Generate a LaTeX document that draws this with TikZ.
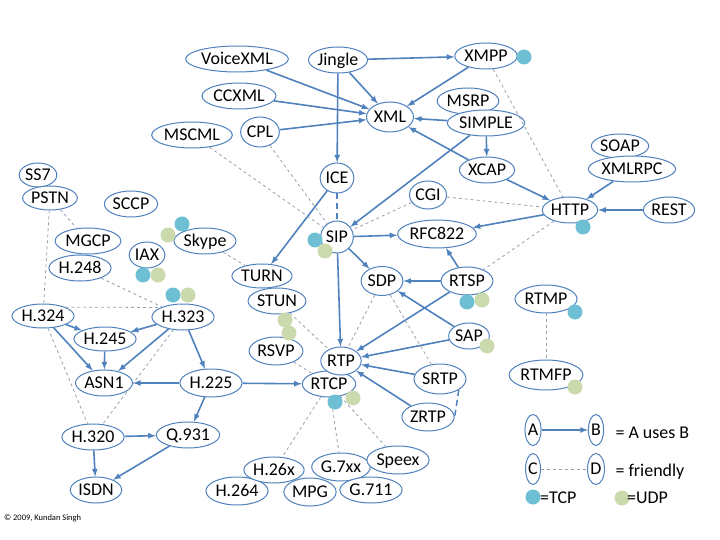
\documentclass[tikz,border=0pt]{standalone}
\usepackage{fontspec}
\setmainfont{Carlito}
\usepackage{tikz}
\usetikzlibrary{shapes.geometric,arrows}

\definecolor{protoblue}{RGB}{79,129,189}
\definecolor{friendgray}{RGB}{150,160,178}
\definecolor{tcpblue}{RGB}{110,190,212}
\definecolor{udpgreen}{RGB}{203,218,172}

\begin{document}
\begin{tikzpicture}[x=1bp, y=-1bp,
    proto/.style={draw=protoblue, fill=white, ellipse, line width=1bp, inner sep=0.5bp,
      minimum height=26bp, text height=12bp, text depth=1bp, font=\fontsize{18}{21}\selectfont},
    uses/.style={->, >=latex, draw=protoblue, line width=1.6bp},
    friend/.style={draw=friendgray, dashed, line width=0.8bp},
    tcp/.style={circle, fill=tcpblue, inner sep=0pt, minimum size=15bp},
    udp/.style={circle, fill=udpgreen, inner sep=0pt, minimum size=15bp}]
  \useasboundingbox (0,0) rectangle (720,540);

  % upper part: markup and signalling
  \node[proto] (voicexml) at (237,59) {VoiceXML};
  \node[proto] (jingle) at (338,60) {Jingle};
  \node[proto] (xmpp) at (486,56) {XMPP};
  \node[proto] (ccxml) at (239,96) {CCXML};
  \node[proto, minimum height=30bp] (xml) at (390,117) {XML};
  \node[proto] (msrp) at (468,101) {MSRP};
  \node[proto] (simple) at (486,123) {SIMPLE};
  \node[proto] (mscml) at (192,135) {MSCML};
  \node[proto, minimum height=30bp] (cpl) at (260,132) {CPL};
  \node[proto, minimum height=30bp] (ice) at (337,178) {ICE};
  \node[proto] (xcap) at (487,170) {XCAP};
  \node[proto, minimum height=24bp] (soap) at (620,146) {SOAP};
  \node[proto] (xmlrpc) at (632,169) {XMLRPC};
  \node[proto, minimum height=28bp] (cgi) at (428,195) {CGI};
  \node[proto] (http) at (570,210) {HTTP};
  \node[proto] (rest) at (669,210) {REST};
  \node[proto, minimum height=32bp] (sip) at (337,237) {SIP};
  \node[proto, minimum height=28bp] (rfc) at (437,234) {RFC822};

  % left part: telephony
  \node[proto, minimum height=24bp] (ss7) at (38,175) {SS7};
  \node[proto, minimum height=24bp] (pstn) at (50,198) {PSTN};
  \node[proto] (sccp) at (131,204) {SCCP};
  \node[proto] (skype) at (205,241) {Skype};
  \node[proto] (mgcp) at (88,241) {MGCP};
  \node[proto] (h248) at (80,268) {H.248};
  \node[proto] (iax) at (147,255) {IAX};
  \node[proto, minimum height=24bp] (h324) at (43,316) {H.324};
  \node[proto] (h323) at (183,317) {H.323};
  \node[proto, minimum height=24bp] (h245) at (105,339) {H.245};
  \node[proto] (asn) at (104,383) {ASN1};
  \node[proto, minimum height=28bp] (h225) at (211,383) {H.225};
  \node[proto] (h320) at (93,437) {H.320};
  \node[proto] (q931) at (188,435) {Q.931};
  \node[proto] (isdn) at (96,490) {ISDN};

  % media part
  \node[proto, minimum height=24bp] (turn) at (262,276) {TURN};
  \node[proto] (stun) at (277,301) {STUN};
  \node[proto, minimum height=28bp] (rsvp) at (276,351) {RSVP};
  \node[proto, minimum height=29bp] (sdp) at (382,281) {SDP};
  \node[proto, minimum height=28bp] (rtsp) at (467,281) {RTSP};
  \node[proto] (sap) at (469,336) {SAP};
  \node[proto] (rtcp) at (329,384) {RTCP};
  \node[proto, minimum height=28bp] (rtp) at (341,361) {RTP};
  \node[proto, minimum height=30bp] (srtp) at (440,379) {SRTP};
  \node[proto, minimum height=28bp] (zrtp) at (428,417) {ZRTP};
  \node[proto, minimum height=28bp] (rtmp) at (546,299) {RTMP};
  \node[proto, minimum height=30bp] (rtmfp) at (546,375) {RTMFP};
  \node[proto, minimum height=28bp] (h264) at (237,491) {H.264};
  \node[proto] (h26x) at (274,470) {H.26x};
  \node[proto, minimum height=28bp] (mpg) at (310,492) {MPG};
  \node[proto, minimum height=28bp] (g7xx) at (341,467) {G.7xx};
  \node[proto, minimum height=28bp] (speex) at (398,460) {Speex};
  \node[proto] (g711) at (371,490) {G.711};

  % A uses B
  \foreach \a/\b in {voicexml/xml, ccxml/xml, cpl/xml, jingle/xml, jingle/xmpp, jingle/ice,
      xmpp/xml, simple/xml, xcap/xml, simple/xcap, simple/sip, xcap/http, xmlrpc/http,
      rest/http, http/rfc, sip/rfc, sip/sdp, sip/rtp, ice/turn, rtsp/sdp, rtsp/rfc,
      rtsp/rtp, sap/sdp, sap/rtp, srtp/rtp, zrtp/rtp, h225/rtcp, h225/asn, h225/q931,
      h323/h225, h323/h245, h323/asn, h324/h245, h324/asn, h245/asn, h320/q931,
      h320/isdn, q931/isdn}
    \draw[uses] (\a) -- (\b);

  % friendly
  \foreach \a/\b in {mscml/sip, cpl/sip, cgi/sip, cgi/http, xmpp/http, http/rtsp,
      skype/turn, stun/rtp, rsvp/rtcp, sdp/rtp, sdp/srtp, rtcp/h26x, rtcp/g7xx,
      rtcp/speex, rtmp/rtmfp, pstn/h324, pstn/mgcp, h248/h323,
      h324.north east/h323.north west, h324/h320, h323/h320}
    \draw[friend] (\a) -- (\b);
  \draw[friend, draw=protoblue, line width=1.5bp, dash pattern=on 6bp off 4bp] (ice) -- (sip);
  \draw[friend, draw=protoblue, line width=1.5bp, dash pattern=on 6bp off 4bp] (srtp.south east) -- (zrtp.east);

  % transports
  \node[tcp] (xmpp-tcp) at (524,57) {};
  \node[tcp] (http-tcp) at (583,227) {};
  \node[tcp] (sip-tcp) at (315,240) {};
  \node[udp] (sip-udp) at (325,251) {};
  \node[tcp] (skype-tcp) at (182,224) {};
  \node[udp] (skype-udp) at (168,235) {};
  \node[tcp] (iax-tcp) at (143,275) {};
  \node[udp] (iax-udp) at (158,275) {};
  \node[tcp] (h323-tcp) at (173,295) {};
  \node[udp] (h323-udp) at (188,295) {};
  \node[udp] (stun-udp) at (285,320) {};
  \node[udp] (stun-udp2) at (289,333) {};
  \node[tcp] (rtcp-tcp) at (335,402) {};
  \node[udp] (rtcp-udp) at (353,398) {};
  \node[tcp] (rtsp-tcp) at (467,302) {};
  \node[udp] (rtsp-udp) at (482,300) {};
  \node[udp] (sap-udp) at (487,346) {};
  \node[tcp] (rtmp-tcp) at (575,312) {};
  \node[udp] (rtmfp-udp) at (575,387) {};

  % legend
  \node[proto, minimum height=31bp] (a) at (533,430) {A};
  \node[proto, minimum height=31bp] (b) at (596,430) {B};
  \node[proto, minimum height=31bp] (c) at (533,469) {C};
  \node[proto, minimum height=31bp] (d) at (596,469) {D};
  \draw[uses] (a) -- (b);
  \draw[friend] (c) -- (d);
  \node[anchor=west, font=\fontsize{18}{21}\selectfont] (uses-text) at (612,433) {= A uses B};
  \node[anchor=west, font=\fontsize{18}{21}\selectfont] (friend-text) at (612,472) {= friendly};
  \node[tcp] (key-tcp) at (533,497) {};
  \node[anchor=west, inner sep=0pt, font=\fontsize{18}{21}\selectfont] (tcp-text) at (540,498) {=TCP};
  \node[udp] (key-udp) at (622,498) {};
  \node[anchor=west, inner sep=0pt, font=\fontsize{18}{21}\selectfont] (udp-text) at (627,498) {=UDP};

  \node[anchor=west, inner sep=0pt, font=\fontsize{8.5}{10}\selectfont] (credit) at (4,518) {© 2009, Kundan Singh};
\end{tikzpicture}
\end{document}
